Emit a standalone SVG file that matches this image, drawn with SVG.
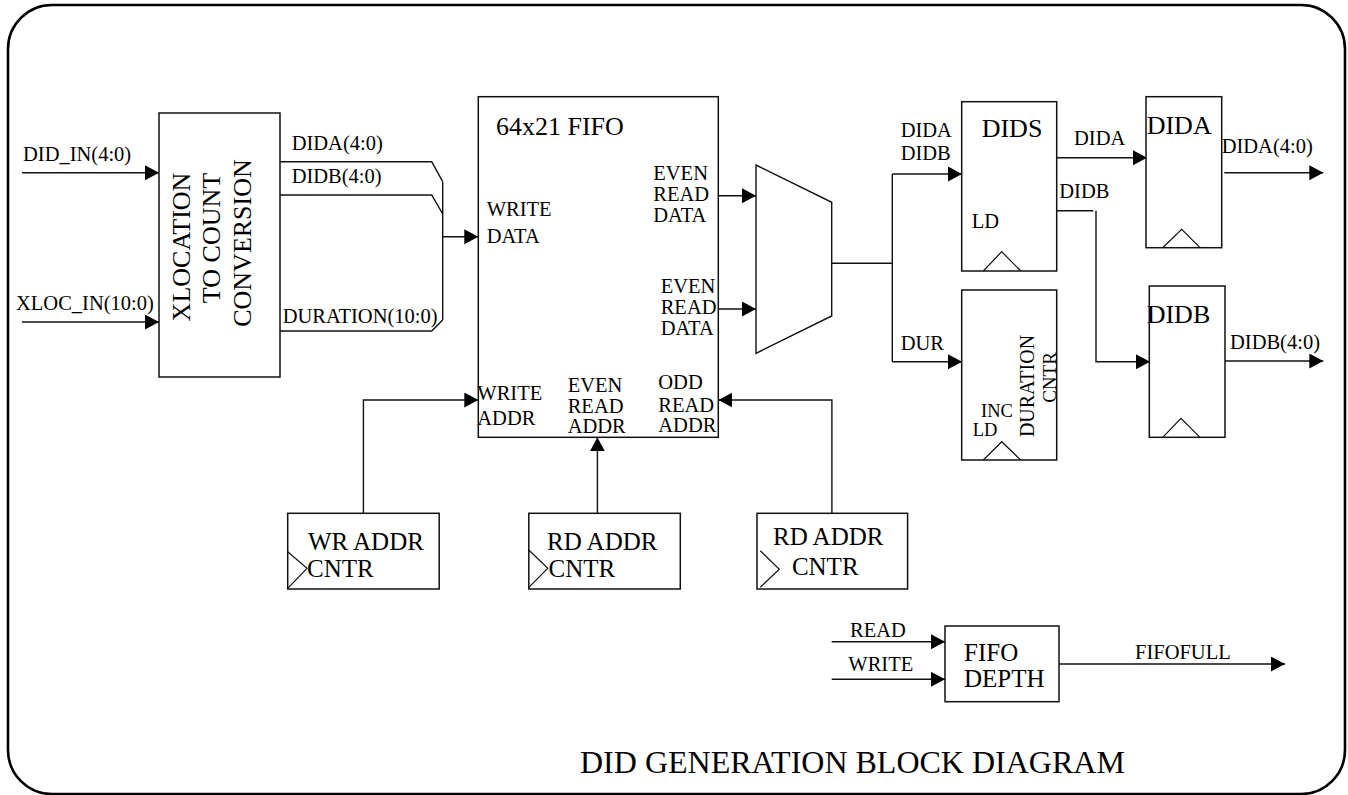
<svg xmlns="http://www.w3.org/2000/svg" width="1348" height="795" viewBox="0 0 1348 795">
<style>
text{font-family:'Liberation Serif','DejaVu Serif','Noto Serif',serif;fill:#000;font-size:20.5px}
.big{font-size:26px}
.cn{font-size:25px}
.box{fill:#fff;stroke:#111;stroke-width:1.5}
.w{fill:none;stroke:#111;stroke-width:1.4}
.a{fill:none;stroke:#111;stroke-width:1.4;marker-end:url(#ah)}
.clk{fill:none;stroke:#111;stroke-width:1.2}
</style>
<defs>
<marker id="ah" markerUnits="userSpaceOnUse" markerWidth="15" markerHeight="16" refX="14" refY="7.5" orient="auto">
<path d="M0,0 L14,7.5 L0,15 z" fill="#000"/>
</marker>
</defs>
<rect width="1348" height="795" fill="#fff"/>
<rect x="8" y="5" width="1337" height="789" rx="44" ry="44" fill="none" stroke="#000" stroke-width="2.6"/>

<g id="connectors">
<path class="a" d="M22,172.7 H159"/>
<path class="a" d="M22,322 H159"/>
<path class="w" d="M280,161.7 H431.7 L442.7,181.7"/>
<path class="w" d="M280,195 H431.7 L442.7,214"/>
<path class="w" d="M280,331 H431.7 L442.7,320"/>
<path class="w" d="M442.7,181.7 V320"/>
<path class="a" d="M442.7,236.7 H478.3"/>
<path class="a" d="M363.4,513.3 V400 H478.3"/>
<path class="a" d="M597.4,513.3 V437.3"/>
<path class="a" d="M831.9,513.3 V400 H718.3"/>
<path class="a" d="M718.3,195.7 H756"/>
<path class="a" d="M718.3,309 H756"/>
<path class="w" d="M831.7,263.3 H892.3"/>
<path class="w" d="M892.3,174 V361.7"/>
<path class="a" d="M892.3,174 H962"/>
<path class="a" d="M892.3,361.7 H962"/>
<path class="a" d="M1056.7,157.7 H1147"/>
<path class="w" d="M1056.7,210.7 H1093.3"/>
<path class="a" d="M1096,210.7 V361.7 H1150"/>
<path class="a" d="M1224.3,172.7 H1323.3"/>
<path class="a" d="M1225,361 H1323.3"/>
<path class="a" d="M831.7,641.7 H945"/>
<path class="a" d="M831.7,679.3 H945"/>
<path class="a" d="M1059,664 H1285"/>
</g>

<g id="labels">
<text x="23" y="161">DID_IN(4:0)</text>
<text x="16" y="310">XLOC_IN(10:0)</text>
<text x="291.7" y="150">DIDA(4:0)</text>
<text x="291.7" y="183">DIDB(4:0)</text>
<text x="282.7" y="323">DURATION(10:0)</text>
<text x="900.7" y="136.7">DIDA</text>
<text x="900.7" y="160">DIDB</text>
<text x="900.7" y="350">DUR</text>
<text x="1074" y="145">DIDA</text>
<text x="1059.3" y="198.3">DIDB</text>
<text x="1221.7" y="153.3">DIDA(4:0)</text>
<text x="1230" y="349.3">DIDB(4:0)</text>
<text x="850" y="636.7">READ</text>
<text x="848.3" y="670.7">WRITE</text>
<text x="1135" y="659.3">FIFOFULL</text>
</g>

<g id="xloc">
<rect class="box" x="159" y="113" width="121" height="264"/>
<text style="font-size:26px" text-anchor="middle" transform="translate(190,247) rotate(-90)">XLOCATION</text>
<text style="font-size:26px" text-anchor="middle" transform="translate(220,238) rotate(-90)">TO COUNT</text>
<text style="font-size:26px" text-anchor="middle" transform="translate(251,243) rotate(-90)">CONVERSION</text>
</g>

<g id="fifo">
<rect class="box" x="478.3" y="96.7" width="240" height="340.6"/>
<text class="big" x="496" y="135">64x21 FIFO</text>
<text x="486.7" y="216">WRITE</text>
<text x="486.7" y="242.7">DATA</text>
<text x="653.3" y="180">EVEN</text>
<text x="653.3" y="200.7">READ</text>
<text x="653.3" y="222.3">DATA</text>
<text x="660.7" y="292.7">EVEN</text>
<text x="660.7" y="314.3">READ</text>
<text x="660.7" y="335">DATA</text>
<text x="477.3" y="400">WRITE</text>
<text x="477.3" y="425">ADDR</text>
<text x="567.7" y="391.7">EVEN</text>
<text x="567.7" y="412.7">READ</text>
<text x="567.7" y="433.3">ADDR</text>
<text x="658.3" y="389.3">ODD</text>
<text x="658.3" y="411.7">READ</text>
<text x="658.3" y="432.3">ADDR</text>
</g>

<g id="wrcntr">
<rect class="box" x="287.7" y="513.3" width="151.5" height="75.7"/>
<text class="cn" x="307.9" y="550">WR ADDR</text>
<text class="cn" x="307" y="577">CNTR</text>
<path class="clk" d="M287.7,551.7 L307,568.3 L287.7,588.3"/>
</g>

<g id="rdcntr1">
<rect class="box" x="528.8" y="513.3" width="151.5" height="75.7"/>
<text class="cn" x="547" y="550">RD ADDR</text>
<text class="cn" x="548.6" y="577">CNTR</text>
<path class="clk" d="M528.8,550 L547.8,568.3 L528.8,587.3"/>
</g>

<g id="rdcntr2">
<rect class="box" x="757" y="513.3" width="150.6" height="75.7"/>
<text class="cn" x="773" y="545">RD ADDR</text>
<text class="cn" x="791.9" y="575">CNTR</text>
<path class="clk" d="M760.3,550.7 L779.3,569.3 L760.3,587.3"/>
</g>

<g id="mux">
<polygon points="756,165 831.7,202.3 831.7,316 756,353.3" fill="#fff" stroke="#111" stroke-width="1.4"/>
</g>

<g id="dids">
<rect class="box" x="961.7" y="101.7" width="95" height="169.3"/>
<text class="big" x="981.7" y="136.7">DIDS</text>
<text x="971.7" y="228.3">LD</text>
<path class="clk" d="M983.3,271 L1001.7,251.7 L1020.7,271"/>
</g>

<g id="durcntr">
<rect class="box" x="961.7" y="290" width="95" height="170"/>
<text text-anchor="middle" style="font-size:20px" transform="translate(1034,386) rotate(-90)">DURATION</text>
<text text-anchor="middle" style="font-size:19px" transform="translate(1056,377.5) rotate(-90)">CNTR</text>
<text x="981" y="417" style="font-size:18.5px">INC</text>
<text x="972.7" y="435.5" style="font-size:18.5px">LD</text>
<path class="clk" d="M983.3,460 L1001.7,441.7 L1020.7,460"/>
</g>

<g id="dida">
<rect class="box" x="1146" y="96.7" width="75.7" height="151"/>
<text class="big" x="1146.7" y="134.3">DIDA</text>
<path class="clk" d="M1162.7,247.7 L1181.7,229.3 L1200,247.7"/>
</g>

<g id="didb">
<rect class="box" x="1149.3" y="286" width="75.7" height="151.3"/>
<text class="big" x="1146.7" y="323.3">DIDB</text>
<path class="clk" d="M1162.7,437.3 L1181,418.3 L1200,437.3"/>
</g>

<g id="fifodepth">
<rect class="box" x="945" y="626" width="114" height="75.7"/>
<text x="964" y="661" style="font-size:25px">FIFO</text>
<text x="964" y="686.5" style="font-size:25px">DEPTH</text>
</g>

<text x="580" y="773" style="font-size:32px">DID GENERATION BLOCK DIAGRAM</text>
</svg>
